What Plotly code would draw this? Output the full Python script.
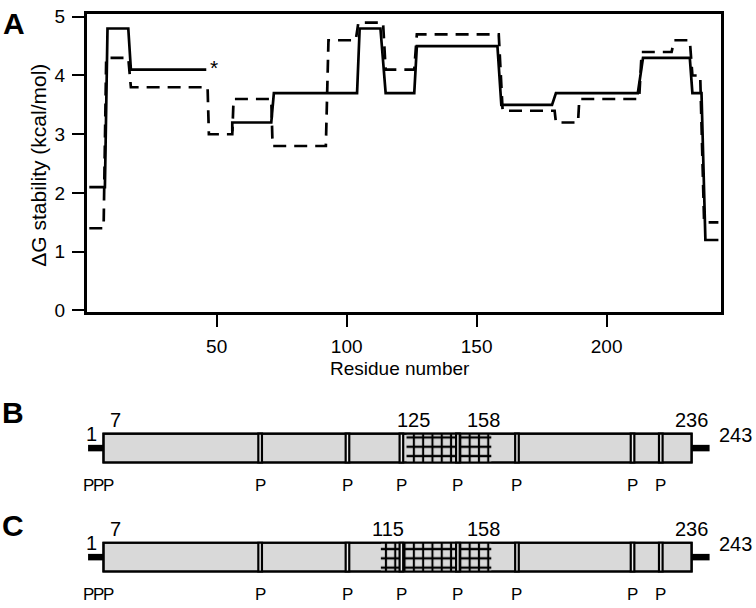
import plotly.graph_objects as go

FONT = "Liberation Sans, Arial, sans-serif"

# ---- panel A: stability step profiles (residue, kcal/mol); None = break after residue 46
solid_res = [1, 7, 8, 16, 17, 46, None, 56, 56, 71, 72, 104, 105, 113, 115, 126, 127,
             158, 159.5, 179, 180.5, 212, 214, 232, 233, 236.5, 238, 243]
solid_dg = [2.1, 2.1, 4.8, 4.8, 4.1, 4.1, None, 3.05, 3.2, 3.2, 3.7, 3.7, 4.8, 4.8, 3.7, 3.7, 4.5,
            4.5, 3.5, 3.5, 3.7, 3.7, 4.3, 4.3, 3.7, 3.7, 1.2, 1.2]
dash_res = [1, 6.5, 7.5, 16, 17, 46.5, 47, 56, 56.5, 71, 71.5, 92, 93, 103.5, 104.5, 114, 115,
            126, 127, 158.5, 160, 180, 180.5, 189, 189.5, 212.5, 213.5, 225, 226, 232, 233, 236,
            237.5, 243]
dash_dg = [1.4, 1.4, 4.3, 4.3, 3.8, 3.8, 3.0, 3.0, 3.6, 3.6, 2.8, 2.8, 4.6, 4.6, 4.9, 4.9, 4.1,
           4.1, 4.7, 4.7, 3.4, 3.4, 3.2, 3.2, 3.6, 3.6, 4.4, 4.4, 4.6, 4.6, 4.0, 4.0,
           1.5, 1.5]
x_ticks = [50, 100, 150, 200]
y_ticks = [0, 1, 2, 3, 4, 5]
star_res, star_dg = 49, 4.13

# ---- panels B / C: construct diagrams
full_start, full_end = 1, 243
construct_start, construct_end = 7, 236
prolines = [68, 102, 123, 145, 168, 213, 224]
nterm_p = [1, 5, 9]
rows = {"B": 1, "C": 0}
grid = {"B": (125, 158), "C": (115, 158)}

fig = go.Figure()
fig.add_trace(go.Scatter(x=solid_res, y=solid_dg, mode="lines", connectgaps=False,
                         line=dict(color="black", width=2.7)))
fig.add_trace(go.Scatter(x=dash_res, y=dash_dg, mode="lines",
                         line=dict(color="black", width=2.7, dash="13px,8px")))

half = 0.132
shapes = []
annots = []
for name, row in rows.items():
    # leaders
    shapes.append(dict(type="line", xref="x2", yref="y2", x0=full_start, x1=construct_start,
                       y0=row, y1=row, line=dict(color="black", width=6.5)))
    shapes.append(dict(type="line", xref="x2", yref="y2", x0=construct_end, x1=full_end,
                       y0=row, y1=row, line=dict(color="black", width=6.5)))
    # body
    shapes.append(dict(type="rect", xref="x2", yref="y2", x0=construct_start, x1=construct_end,
                       y0=row - half, y1=row + half, fillcolor="#d9d9d9",
                       line=dict(color="black", width=2), layer="below"))
    g0, g1 = grid[name]
    fig.add_trace(go.Bar(x=[g1 - g0], base=[g0], y=[row], orientation="h", width=2 * half,
                         xaxis="x2", yaxis="y2",
                         marker=dict(color="#d9d9d9", line_width=0,
                                     pattern=dict(shape="+", fgcolor="black", bgcolor="#d9d9d9",
                                                  fgopacity=1, size=9.3, solidity=0.4))))
    # body outline again on top of grid
    shapes.append(dict(type="rect", xref="x2", yref="y2", x0=construct_start, x1=construct_end,
                       y0=row - half, y1=row + half, line=dict(color="black", width=2.2)))
    for p in prolines:
        shapes.append(dict(type="rect", xref="x2", yref="y2", x0=p - 0.7, x1=p + 0.7,
                           y0=row - half, y1=row + half, fillcolor="#f0f0f0",
                           line=dict(color="black", width=2.2)))
    for p in nterm_p + prolines:
        annots.append(dict(x=p, y=row, xref="x2", yref="y2", text="P", showarrow=False,
                           yshift=-37, font=dict(size=17)))
    top_labels = [(construct_start, 12), (g0, 7), (g1, -8), (construct_end, 0)]
    for v, sh in top_labels:
        annots.append(dict(x=v, y=row, xref="x2", yref="y2", text=str(v), showarrow=False,
                           xshift=sh, yshift=28, font=dict(size=20)))
    annots.append(dict(x=full_start, y=row, xref="x2", yref="y2", text=str(full_start),
                       showarrow=False, xshift=3, yshift=14, font=dict(size=20)))
    annots.append(dict(x=full_end, y=row, xref="x2", yref="y2", text=str(full_end),
                       showarrow=False, xshift=26, yshift=13, font=dict(size=20)))

paper_text = [
    ("ΔG stability (kcal/mol)", 39, 163, 21, -90),
    ("Residue number", 400, 371, 19, 0),
    ("<b>A</b>", 14, 17, 30, 0),
    ("<b>B</b>", 13, 416, 30, 0),
    ("<b>C</b>", 13, 533, 30, 0),
]
annots.append(dict(x=star_res, y=star_dg, xref="x", yref="y", text="*", showarrow=False,
                   font=dict(size=21)))
for txt, px, py, size, ang in paper_text:
    annots.append(dict(x=px / 756, y=1 - py / 608, xref="paper", yref="paper", text=txt,
                       textangle=ang, showarrow=False, xanchor="center", yanchor="middle",
                       font=dict(size=size)))

axis_common = dict(ticks="outside", ticklen=12, tickwidth=2, tickcolor="black", showline=True,
                   linewidth=2.7, linecolor="black", mirror=True, showgrid=False, zeroline=False,
                   ticklabeloverflow="allow", tickfont=dict(size=19, color="black"))

fig.update_layout(
    width=756, height=608, margin=dict(l=0, r=0, t=0, b=0),
    paper_bgcolor="white", plot_bgcolor="white", showlegend=False,
    font=dict(family=FONT, color="black", size=18),
    xaxis=dict(domain=[86.7 / 756, 721 / 756], range=[0, 244], tickvals=x_ticks, anchor="y",
               ticklabelstandoff=3, **axis_common),
    yaxis=dict(domain=[1 - 313.5 / 608, 1 - 7 / 608], range=[-0.03, 5.05], tickvals=y_ticks,
               anchor="x", ticklabelstandoff=3, **axis_common),
    xaxis2=dict(domain=[0, 1], range=[-33.29, 261.07], visible=False, anchor="y2"),
    yaxis2=dict(domain=[0, 1 - 380 / 608], range=[-0.384, 1.652], visible=False, anchor="x2"),
    shapes=shapes, annotations=annots,
)

# page body has a default 8px margin; drop it so the figure sits at the window corner
fig.write_html("out.html", config={"displayModeBar": False},
               post_script="document.body.style.margin='0px';")
